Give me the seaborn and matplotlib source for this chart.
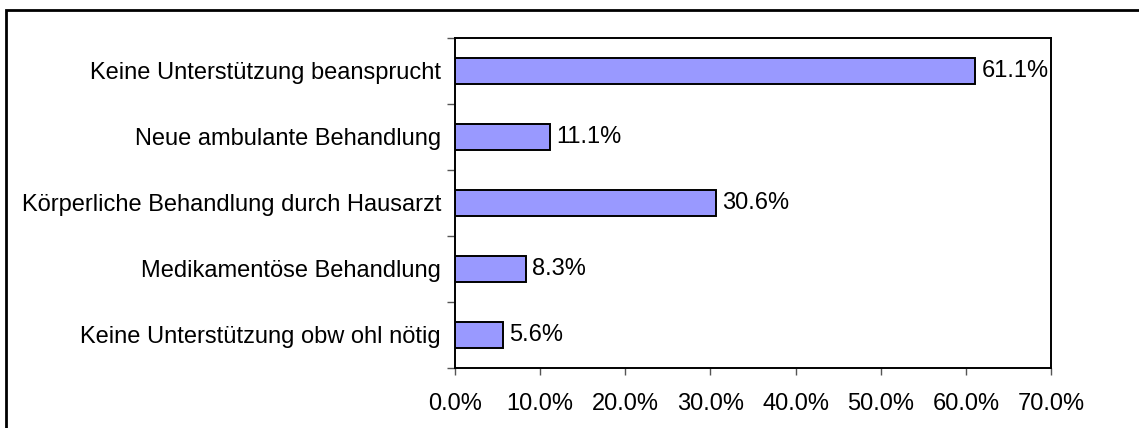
import numpy as np
import pandas as pd
import seaborn as sns
import matplotlib.pyplot as plt
from matplotlib.patches import Rectangle
from matplotlib.ticker import FuncFormatter

categories = [
    'Keine Unterstützung beansprucht',
    'Neue ambulante Behandlung',
    'Körperliche Behandlung durch Hausarzt',
    'Medikamentöse Behandlung',
    'Keine Unterstützung obw ohl nötig',
]
values = [61.1, 11.1, 30.6, 8.3, 5.6]
x_ticks = [0, 10, 20, 30, 40, 50, 60, 70]

sns.set_style('white')
plt.rcParams['font.family'] = ['Liberation Sans', 'DejaVu Sans']
plt.rcParams['text.color'] = 'black'
plt.rcParams['xtick.labelcolor'] = 'black'
plt.rcParams['ytick.labelcolor'] = 'black'

df = pd.DataFrame({'cat': categories, 'val': values})

fig = plt.figure(figsize=(11.39, 4.28), dpi=100)
ax = fig.add_axes([455 / 1139, 1 - 368 / 428, (1051 - 455) / 1139, 330 / 428])

sns.barplot(data=df, x='val', y='cat', orient='h', ax=ax,
            color='#9999FF', saturation=1, width=0.39,
            edgecolor='black', linewidth=1.4)

# value labels right of the bars
for i, v in enumerate(values):
    ax.text(v + 0.8, i, f'{v:.1f}%', va='center', ha='left', fontsize=17,
            color='black')

ax.set_xlim(0, 70)
ax.set_ylim(4.5, -0.5)
ax.set_xticks(x_ticks)
ax.xaxis.set_major_formatter(FuncFormatter(lambda x, p: f'{x:.1f}%'))
ax.set_xlabel('')
ax.set_ylabel('')

# category labels at centers, tick marks between categories
ax.set_yticks(range(len(categories)))
ax.set_yticklabels(categories)
ax.set_yticks(np.arange(-0.5, len(categories), 1.0), minor=True)
ax.tick_params(axis='y', which='major', length=0, pad=10, labelsize=17,
               labelcolor='black')
ax.tick_params(axis='y', which='minor', length=6, width=1, color='#555555',
               direction='out', left=True)
ax.tick_params(axis='x', which='major', length=5, width=1, color='#555555',
               direction='out', bottom=True, pad=13, labelsize=17,
               labelcolor='black')

for s in ax.spines.values():
    s.set_visible(True)
    s.set_color('black')
    s.set_linewidth(1.4)

# outer chart border
fig.patches.append(Rectangle((6 / 1139, -0.05), 1.1, 1 - 10 / 428 + 0.05,
                             transform=fig.transFigure, fill=False,
                             edgecolor='black', linewidth=2, clip_on=False))

fig.savefig('out.png', dpi=100)
